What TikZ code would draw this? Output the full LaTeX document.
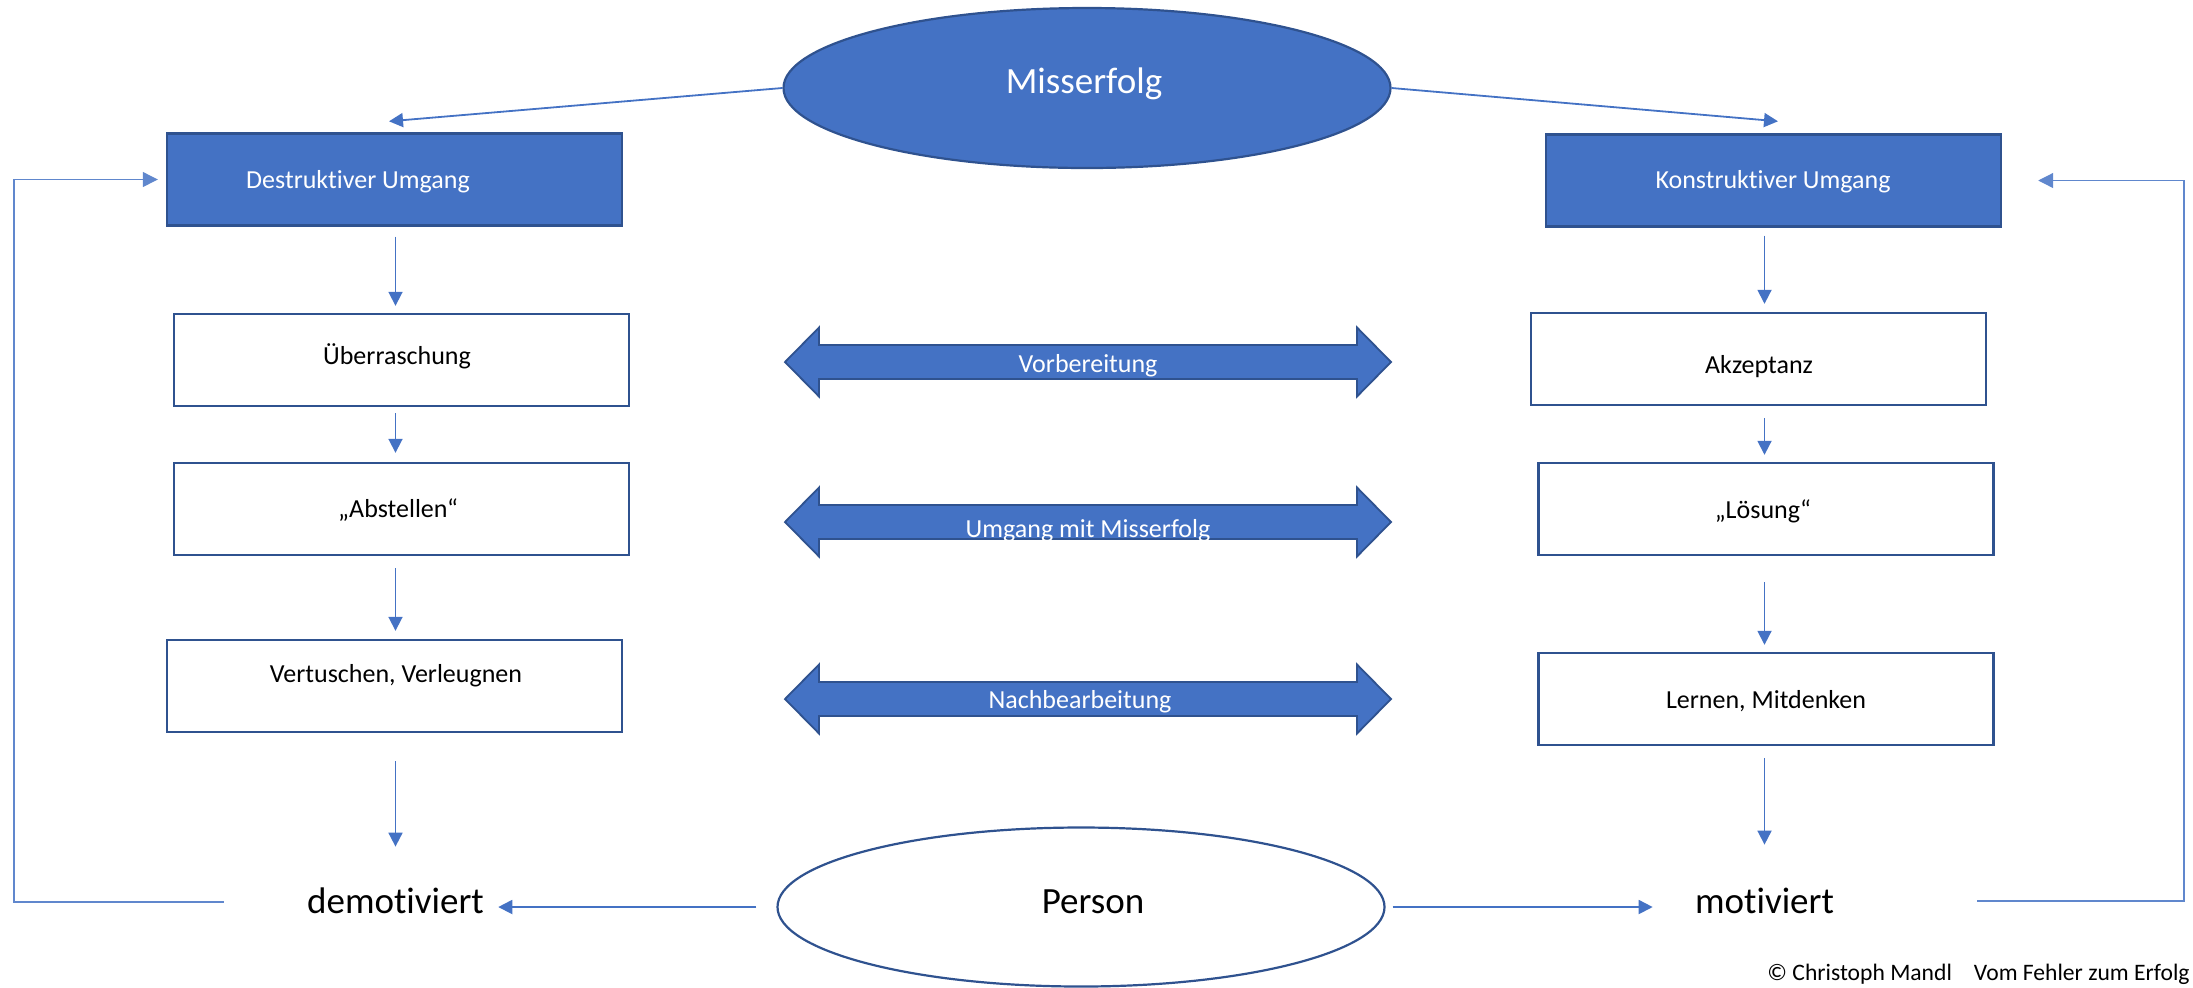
\documentclass[tikz,border=0pt]{standalone}
\usepackage{fontspec}
\setmainfont{Carlito}[Ligatures={TeX,NoCommon}]
\usetikzlibrary{shapes.geometric,arrows.meta,calc}
\definecolor{accent}{HTML}{4472C4}
\definecolor{accentdark}{HTML}{2F528F}
\tikzset{
  arr/.style={draw=accent, line width=0.9pt, -{Triangle[length=7pt,width=7pt]}},
  backline/.style={draw=accent!85, line width=0.6pt, -{Triangle[length=7.5pt,width=7.5pt]}},
  stepbox/.style={rectangle, draw=accentdark, line width=1.2pt, fill=white,
    minimum width=227.5pt, minimum height=46pt, inner sep=0pt},
  headbox/.style={stepbox, fill=accent},
  oval/.style={ellipse, draw=accentdark, line width=1.1pt, inner sep=0pt,
    minimum width=303.5pt, minimum height=79.5pt},
  boxtxt/.style={inner sep=0pt, anchor=base, font=\fontsize{13}{15}\selectfont},
  bigtxt/.style={inner sep=0pt, anchor=base, font=\fontsize{18.5}{22}\selectfont,
    text height=13pt, text depth=4pt},
  dbl/.style={fill=accent, draw=accentdark, line width=0.9pt},
  twoway/.pic={\path[dbl] (-303,0) -- (-269,-34.5) -- (-269,-17) -- (269,-17)
    -- (269,-34.5) -- (303,0) -- (269,34.5) -- (269,17) -- (-269,17)
    -- (-269,34.5) -- cycle;}
}
\begin{document}
\begin{tikzpicture}[x=0.5pt,y=-0.5pt]
\useasboundingbox (0,0) rectangle (2193,987);

% top ellipse
\node[oval, fill=accent, minimum height=80pt] (mis) at (1087,88) {};
\node[bigtxt, text=white] (mis-t) at (1084,93) {Misserfolg};

% heads of the two columns
\node[headbox] (destr) at (394.5,179.5) {};
\node[boxtxt, text=white] (destr-t) at (358,188) {Destruktiver Umgang};
\node[headbox] (konstr) at (1773.5,180.5) {};
\node[boxtxt, text=white] (konstr-t) at (1773,188) {Konstruktiver Umgang};

% left column
\node[stepbox] (ueber) at (401.5,360) {};
\node[boxtxt] (ueber-t) at (397,364) {Überraschung};
\node[stepbox] (abst) at (401.5,509) {};
\node[boxtxt] (abst-t) at (398,517) {„Abstellen“};
\node[stepbox] (vert) at (394.5,686) {};
\node[boxtxt] (vert-t) at (396,682) {Vertuschen, Verleugnen};

% right column
\node[stepbox] (akz) at (1758.5,359) {};
\node[boxtxt] (akz-t) at (1759,373) {Akzeptanz};
\node[stepbox] (loes) at (1766,509) {};
\node[boxtxt] (loes-t) at (1763,518) {„Lösung“};
\node[stepbox] (lern) at (1766,699) {};
\node[boxtxt] (lern-t) at (1766,708) {Lernen, Mitdenken};

% phase arrows in the middle
\pic (vorb) at (1088,362) {twoway};
\node[boxtxt, text=white] (vorb-t) at (1088,372) {Vorbereitung};
\pic (umg) at (1088,522) {twoway};
\node[boxtxt, text=white] (umg-t) at (1088,537) {Umgang mit Misserfolg};
\pic (nach) at (1088,699) {twoway};
\node[boxtxt, text=white] (nach-t) at (1080,708) {Nachbearbeitung};

% bottom row
\node[oval, fill=white] (per) at (1081,907) {};
\node[bigtxt] (per-t) at (1093,913) {Person};
\node[bigtxt] (demot) at (395.5,913) {demotiviert};
\node[bigtxt] (mot) at (1764.5,913) {motiviert};

% credit line
\node[inner sep=0pt, anchor=base east, font=\fontsize{11.8}{14}\selectfont] (credit)
  at (2190,980) {© Christoph Mandl\hspace{11pt}Vom Fehler zum Erfolg};

% connectors from the top ellipse
\draw[arr] (mis.west) -- ([xshift=-2.75pt,yshift=5.5pt]destr.north);
\draw[arr] (mis.east) -- ([xshift=2.25pt,yshift=6pt]konstr.north);

% left column flow
\draw[arr, shorten <=5pt, shorten >=3.5pt] (destr.south -| demot) -- (ueber.north -| demot);
\draw[arr, shorten <=3pt, shorten >=4.5pt] (ueber.south -| demot) -- (abst.north -| demot);
\draw[arr, shorten <=6pt, shorten >=4pt] (abst.south -| demot) -- (vert.north -| demot);
\draw[arr, shorten <=14pt, shorten >=20pt] (vert.south -| demot) -- (demot.north);

% right column flow
\draw[arr, shorten <=4pt, shorten >=4pt] (konstr.south -| mot) -- (akz.north -| mot);
\draw[arr, shorten <=6pt, shorten >=3.5pt] (akz.south -| mot) -- (loes.north -| mot);
\draw[arr, shorten <=13pt, shorten >=3.5pt] (loes.south -| mot) -- (lern.north -| mot);
\draw[arr, shorten <=6pt, shorten >=21pt] (lern.south -| mot) -- (mot.north);

% from the person to both outcomes
\draw[arr, shorten <=10pt, shorten >=7pt] (per.west) -- (per.west -| demot.east);
\draw[arr, shorten <=3.5pt, shorten >=21pt] (per.east) -- (per.east -| mot.west);

% feedback loops
\coordinate (lc) at (14,902);
\coordinate (rc) at (2184,901);
\draw[backline, shorten >=4pt] ($(demot.west |- lc)+(-83,0)$) -- (lc) |- (destr.west);
\draw[backline, shorten >=18pt] ($(mot.east |- rc)+(143,0)$) -- (rc) |- (konstr.east);
\end{tikzpicture}
\end{document}
